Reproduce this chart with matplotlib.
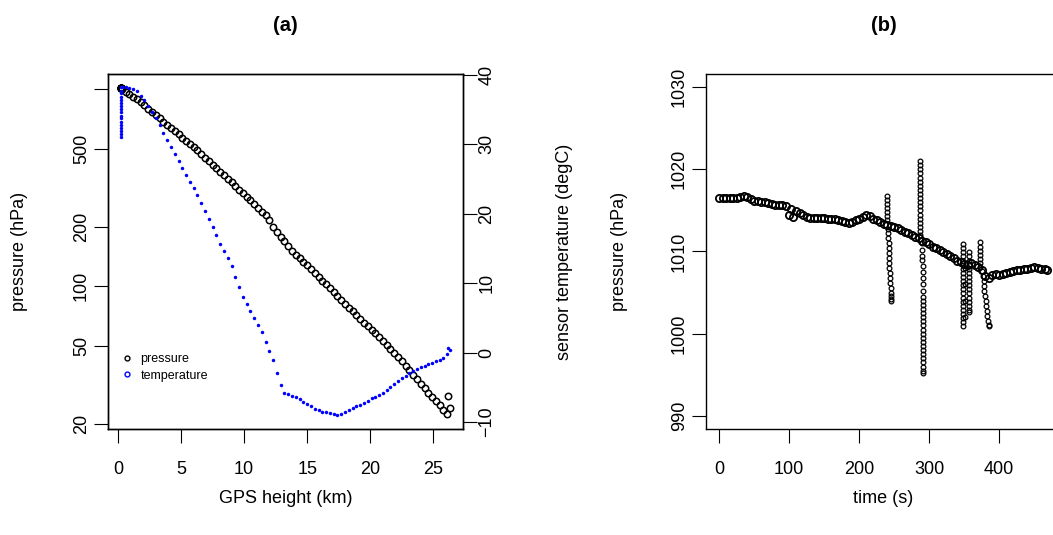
import matplotlib
matplotlib.use('Agg')
import matplotlib.pyplot as plt
from matplotlib.lines import Line2D
import numpy as np

plt.rcParams['font.family'] = ['Liberation Sans', 'DejaVu Sans']

# ---- panel (a): radiosonde profile ----
# launch site samples (sensor still settling)
ground_height = [0.25] * 17
ground_pres = [1016, 1016, 1016, 1016, 1016, 1016, 1016, 1016, 1016,
               1016, 1016, 1016, 1016, 1016, 1016, 1016, 1016]
ground_temp = [31.0, 31.4, 31.9, 32.3, 32.8, 33.2, 33.7, 34.1, 34.6,
               35.0, 35.5, 35.9, 36.4, 36.8, 37.3, 37.7, 38.2]

height = [0.3, 0.6, 0.9, 1.2, 1.5, 1.8, 2.1, 2.4, 2.7, 3.0, 3.3, 3.6, 3.9,
          4.2, 4.5, 4.8, 5.1, 5.4, 5.7, 6.0, 6.3, 6.6, 6.9, 7.2, 7.5, 7.8,
          8.1, 8.4, 8.7, 9.0, 9.3, 9.6, 9.9, 10.2, 10.5, 10.8, 11.1, 11.4,
          11.7, 12.0, 12.3, 12.6, 12.9, 13.2, 13.5, 13.8, 14.1, 14.4, 14.7,
          15.0, 15.3, 15.6, 15.9, 16.2, 16.5, 16.8, 17.1, 17.4, 17.7, 18.0,
          18.3, 18.6, 18.9, 19.2, 19.5, 19.8, 20.1, 20.4, 20.7, 21.0, 21.3,
          21.6, 21.9, 22.2, 22.5, 22.8, 23.1, 23.4, 23.7, 24.0, 24.3, 24.6,
          24.9, 25.2, 25.5, 25.8, 26.1, 26.3, 26.2]
pressure = [998, 968, 942, 916, 889, 861, 828, 794, 764, 736, 711, 686, 662,
            638, 614, 592, 569, 548, 527, 507, 489, 470, 450, 432, 414, 397,
            381, 366, 351, 337, 323, 310, 297, 285, 273, 262, 250, 239,
            229, 216, 201, 188, 178, 169, 160, 152, 145, 139, 133,
            128, 123, 117, 112, 107, 103, 98.4, 94.0, 89.7, 85.7, 81.8,
            78.0, 74.6, 71.4, 68.3, 65.3, 62.7, 60.1, 57.7, 55.3, 52.9, 50.5,
            48.2, 45.9, 43.8, 41.7, 39.6, 37.6, 35.7, 33.8, 32.1, 30.4, 28.8,
            27.4, 26.1, 24.9, 23.7, 22.5, 24.1, 27.7]
temperature = [38.3, 38.3, 38.1, 37.9, 37.6, 37.0, 36.4, 35.5, 34.7, 33.8,
               32.7, 31.6, 30.6, 29.6, 28.6, 27.6, 26.6, 25.6, 24.6, 23.7,
               22.7, 21.6, 20.4, 19.3, 18.1, 16.9, 15.7, 14.6, 13.6, 12.4,
               10.9, 9.5, 8.0, 7.0, 6.0, 5.0, 4.0, 2.9, 1.5, 0.2, -1.1, -2.9,
               -4.6, -5.8, -6.0, -6.2, -6.4, -6.7, -7.1, -7.4, -7.7, -8.1,
               -8.3, -8.5, -8.6, -8.7, -8.8, -9.0, -8.9, -8.6, -8.3, -8.0,
               -7.7, -7.5, -7.2, -6.9, -6.6, -6.4, -6.1, -5.8, -5.4, -4.9,
               -4.5, -4.1, -3.6, -3.3, -3.0, -2.7, -2.4, -2.1, -1.9, -1.7,
               -1.5, -1.2, -1.0, -0.8, -0.2, 0.3, 0.6]

p_ticks = [20, 50, 100, 200, 500, 1000]
p_labels = ['20', '50', '100', '200', '500', '']
t_ticks = [-10, 0, 10, 20, 30, 40]

# ---- panel (b): pressure time series at launch ----
time_base = [0, 5, 10, 15, 20, 25, 30, 35, 40, 45, 50, 55, 60, 65, 70, 75,
             80, 85, 90, 95, 100, 103, 105, 110, 115, 120, 125, 130, 135,
             140, 145, 150, 155, 160, 165, 170, 175, 180, 185, 190, 195,
             200, 205, 210, 215, 220, 225, 230, 235, 240, 245, 250, 255,
             260, 265, 270, 275, 280, 285, 290, 295, 300, 305, 310, 315,
             320, 325, 330, 335, 340, 345, 350, 355, 360, 365, 370, 375,
             380, 385, 390, 395, 400, 405, 410, 415, 420, 425, 430, 435,
             440, 445, 450, 455, 460, 465, 469]
pres_base = [1016.5, 1016.5, 1016.5, 1016.5, 1016.5, 1016.5, 1016.6, 1016.7,
             1016.6, 1016.4, 1016.2, 1016.1, 1016.0, 1016.0, 1015.9, 1015.8,
             1015.7, 1015.7, 1015.6, 1015.5, 1014.4, 1015.2, 1014.2, 1014.9,
             1014.7, 1014.4, 1014.2, 1014.1, 1014.1, 1014.1, 1014.1, 1014.1,
             1014.0, 1014.0, 1013.9, 1013.8, 1013.7, 1013.6, 1013.5, 1013.6,
             1013.8, 1014.0, 1014.2, 1014.4, 1014.3, 1014.0, 1013.8, 1013.6,
             1013.4, 1013.2, 1013.1, 1013.0, 1012.8, 1012.6, 1012.4, 1012.2,
             1012.0, 1011.8, 1011.6, 1011.3, 1011.1, 1010.9, 1010.6, 1010.4,
             1010.2, 1009.9, 1009.7, 1009.4, 1009.2, 1008.9, 1008.7, 1008.5,
             1008.4, 1008.6, 1008.3, 1008.1, 1007.8, 1007.0, 1006.8, 1007.1,
             1007.3, 1007.2, 1007.3, 1007.4, 1007.5, 1007.6, 1007.7, 1007.8,
             1007.9, 1007.9, 1008.0, 1008.1, 1008.0, 1007.9, 1007.9, 1007.8]

# noisy bursts
time_spike = [240, 240, 240, 240, 240, 240, 240, 241, 241, 241, 242, 242,
              242, 243, 243, 243, 244, 244, 244, 245, 245, 245, 246, 246,
              287, 287, 287, 287, 287, 287, 287, 287, 287, 287, 287, 287,
              287, 287, 287, 287, 287, 287, 287,
              290, 290, 290, 290, 291, 291, 291, 291, 291, 291, 291, 291,
              291, 291, 291, 291, 291, 291, 291, 291, 291, 291, 291, 291,
              291, 291, 291, 291, 291,
              348, 348, 348, 348, 348, 348, 348, 348, 348, 348, 348, 348,
              348, 348, 348, 348, 348, 348, 348, 348, 348, 351, 351, 351, 351,
              357, 357, 357, 357, 357, 357, 357, 357, 357, 357, 357, 357,
              357, 357, 357, 357,
              372, 372, 372, 372, 372, 372, 372,
              376, 377, 378, 379, 379, 380, 381, 381, 382, 383, 384, 385, 385]
pres_spike = [1016.8, 1016.3, 1015.8, 1015.3, 1014.8, 1014.3, 1013.8, 1012.7,
              1012.2, 1011.6, 1011.0, 1010.4, 1009.8, 1009.2, 1008.6, 1008.0,
              1007.4, 1006.8, 1006.2, 1005.6, 1005.0, 1004.6, 1004.2, 1004.0,
              1021.0, 1020.5, 1020.0, 1019.5, 1019.0, 1018.5, 1018.0, 1017.5,
              1017.0, 1016.5, 1016.0, 1015.5, 1015.0, 1014.5, 1014.0, 1013.5,
              1013.0, 1012.5, 1012.0,
              1011.0, 1010.2, 1009.5, 1009.0, 1008.2, 1007.5, 1006.8, 1006.0,
              1005.2, 1004.5, 1004.0, 1003.5, 1003.0, 1002.5, 1002.0, 1001.5,
              1001.0, 1000.5, 1000.0, 999.5, 999.0, 998.5, 998.0, 997.5,
              997.0, 996.5, 996.0, 995.5, 995.2,
              1010.9, 1010.4, 1009.9, 1009.4, 1008.9, 1008.4, 1007.9, 1007.4,
              1006.9, 1006.4, 1005.9, 1005.4, 1004.9, 1004.4, 1003.9, 1003.4,
              1002.9, 1002.4, 1001.9, 1001.4, 1000.9, 1008.0, 1006.0, 1004.0,
              1002.0,
              1009.9, 1009.4, 1008.9, 1008.4, 1007.9, 1007.4, 1006.9, 1006.4,
              1005.9, 1005.4, 1004.9, 1004.4, 1003.9, 1003.4, 1002.9, 1002.6,
              1011.1, 1010.6, 1010.1, 1009.6, 1009.1, 1008.6, 1008.1,
              1007.6, 1007.0, 1006.4, 1005.8, 1005.2, 1004.6, 1004.0, 1003.4,
              1002.8, 1002.2, 1001.6, 1001.1, 1000.9]

fs = 13
W, H = 1053, 535
fig = plt.figure(figsize=(W / 100, H / 100), dpi=100)


def box(l, t, r, b):
    return [l / W, 1 - b / H, (r - l) / W, (b - t) / H]


def r_style(ax):
    for s in ax.spines.values():
        s.set_linewidth(1.0)
    ax.tick_params(direction='out', length=10, width=0.8, labelsize=fs)
    ax.tick_params(axis='x', pad=13)
    ax.tick_params(axis='y', pad=3, labelrotation=90)


ax = fig.add_axes(box(108, 74, 463, 429))
ax.plot(ground_height + height, ground_pres + pressure, 'o', mfc='none',
        mec='black', ms=4.6, mew=1.1)
ax.set_yscale('log')
ax.set_ylim(18.9, 1195)
ax.set_xlim(-0.79, 27.35)
ax.set_yticks(p_ticks)
ax.set_yticklabels(p_labels)
ax.yaxis.set_minor_locator(matplotlib.ticker.NullLocator())
ax.set_xticks([0, 5, 10, 15, 20, 25])
r_style(ax)
for lab in ax.get_yticklabels():
    lab.set_va('center')
ax.set_xlabel('GPS height (km)', fontsize=fs)
ax.set_ylabel('pressure (hPa)', fontsize=fs)
ax.xaxis.set_label_coords(0.5, -0.173)
ax.yaxis.set_label_coords(-0.225, 0.5)
ax.text(0.5, 1.138, '(a)', transform=ax.transAxes, ha='center', va='center',
        fontsize=14.5, weight='bold')

ax2 = ax.twinx()
ax2.plot(ground_height + height, ground_temp + temperature, 'o',
         color='#0000ff', ms=2.5, mew=0)
ax2.set_ylim(-11.0, 40.1)
ax2.set_yticks(t_ticks)
r_style(ax2)
ax2.tick_params(axis='y', pad=1)
for lab in ax2.get_yticklabels():
    lab.set_va('center')
ax2.set_ylabel('sensor temperature (degC)', fontsize=fs)
ax2.yaxis.set_label_coords(1.262, 0.5)

handles = [Line2D([], [], ls='none', marker='o', mfc='none', mec='black',
                  ms=3.5, mew=1.0),
           Line2D([], [], ls='none', marker='o', mfc='none', mec='#0000ff',
                  ms=3.5, mew=1.0)]
ax.legend(handles, ['pressure', 'temperature'], loc='center left',
          bbox_to_anchor=(0.003, 0.173), frameon=False, fontsize=9,
          handlelength=1.0, handletextpad=0.6, labelspacing=0.35)

# panel (b)
bx = fig.add_axes(box(706, 74, 1061, 429))
bx.plot(time_base, pres_base, 'o', mfc='none', mec='black', ms=5.2, mew=1.3)
bx.plot(time_spike, pres_spike, 'o', mfc='none', mec='black', ms=3.4,
        mew=0.9)
bx.set_xlim(-18.8, 488.3)
bx.set_ylim(988.4, 1031.6)
bx.set_xticks([0, 100, 200, 300, 400])
bx.set_yticks([990, 1000, 1010, 1020, 1030])
r_style(bx)
for lab in bx.get_yticklabels():
    lab.set_va('center')
bx.set_xlabel('time (s)', fontsize=fs)
bx.set_ylabel('pressure (hPa)', fontsize=fs)
bx.xaxis.set_label_coords(0.5, -0.173)
bx.yaxis.set_label_coords(-0.22, 0.5)
bx.text(0.5, 1.138, '(b)', transform=bx.transAxes, ha='center', va='center',
        fontsize=14.5, weight='bold')

fig.savefig('out.png', dpi=100)
